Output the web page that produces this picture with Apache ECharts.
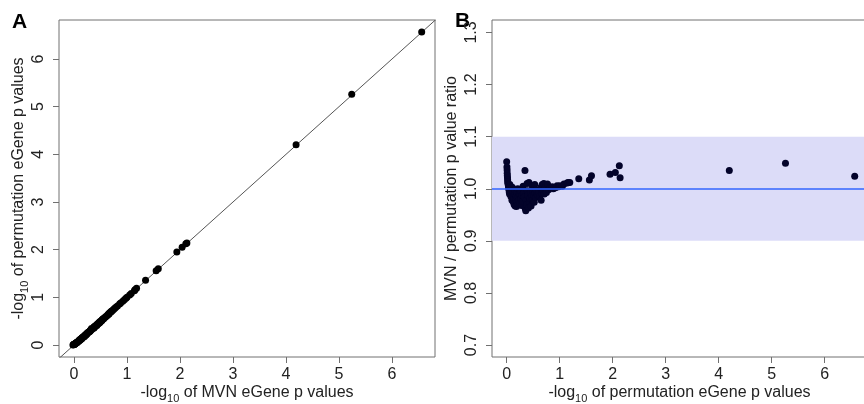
<!DOCTYPE html>
<html><head><meta charset="utf-8">
<script src="https://cdn.jsdelivr.net/npm/echarts@6/dist/echarts.min.js"></script>
<style>html,body{margin:0;padding:0;background:#fff}#c{width:864px;height:404px}</style>
</head><body><div id="c"></div>
<script>
// -log10 permutation eGene p values (panel A y, panel B x)
const permLog = [0.000,0.005,0.008,0.010,0.012,0.015,0.018,0.020,0.025,0.030,0.035,0.040,0.045,0.050,0.055,0.060,0.070,0.080,0.090,0.100,
0.105,0.110,0.120,0.125,0.130,0.140,0.150,0.155,0.160,0.170,0.180,0.185,0.190,0.200,0.210,0.215,0.220,0.230,0.240,0.250,
0.260,0.270,0.280,0.290,0.300,0.310,0.320,0.330,0.345,0.350,0.360,0.370,0.380,0.385,0.390,0.400,0.410,0.420,0.430,0.440,
0.450,0.460,0.470,0.480,0.490,0.500,0.510,0.520,0.530,0.540,0.550,0.560,0.580,0.600,0.620,0.640,0.650,0.660,0.670,0.690,
0.700,0.710,0.730,0.750,0.770,0.790,0.820,0.860,0.880,0.920,0.950,0.980,1.000,1.050,1.080,1.140,1.160,1.190,1.360,1.560,
1.600,1.950,2.050,2.125,2.140,4.200,5.260,6.566];
// MVN / permutation p value ratio (panel B y)
const ratio = [1.052,1.042,1.036,1.030,1.025,1.021,1.017,1.013,1.010,1.007,1.004,1.001,0.997,0.993,0.990,1.008,1.005,0.985,0.992,0.978,
1.003,0.988,0.995,0.975,0.983,0.970,0.990,0.998,0.967,0.980,0.986,0.966,0.993,0.975,1.000,0.970,0.984,0.978,0.990,0.972,
0.996,0.982,0.968,0.988,0.976,1.005,0.992,0.984,1.035,0.962,0.958,0.978,0.970,1.010,0.996,0.988,0.963,1.012,0.975,0.982,
0.993,0.967,0.985,1.006,0.978,0.995,0.988,0.974,1.008,0.992,0.983,0.997,0.988,0.994,0.985,1.002,0.978,0.992,1.008,0.996,
1.010,0.990,1.003,0.993,1.009,0.998,1.002,1.004,1.000,1.002,1.006,1.004,1.006,1.005,1.009,1.011,1.012,1.012,1.019,1.017,
1.025,1.028,1.031,1.044,1.021,1.035,1.049,1.024];
// -log10 MVN eGene p values (panel A x)
const mvnLog = [-0.02,-0.01,-0.01,0.00,0.00,0.01,0.01,0.01,0.02,0.03,0.03,0.04,0.05,0.05,0.06,0.06,0.07,0.09,0.09,0.11,
0.10,0.12,0.12,0.14,0.14,0.15,0.15,0.16,0.17,0.18,0.19,0.20,0.19,0.21,0.21,0.23,0.23,0.24,0.24,0.26,
0.26,0.28,0.29,0.30,0.31,0.31,0.32,0.34,0.33,0.37,0.38,0.38,0.39,0.38,0.39,0.41,0.43,0.42,0.44,0.45,
0.45,0.48,0.48,0.48,0.50,0.50,0.52,0.53,0.53,0.54,0.56,0.56,0.59,0.60,0.63,0.64,0.66,0.66,0.67,0.69,
0.70,0.71,0.73,0.75,0.77,0.79,0.82,0.86,0.88,0.92,0.95,0.98,1.00,1.05,1.08,1.14,1.15,1.18,1.35,1.55,
1.59,1.94,2.04,2.11,2.13,4.19,5.24,6.56];
const ticksA = [0,1,2,3,4,5,6];
const ticksBx = [0,1,2,3,4,5,6];
const ticksBy = [0.7,0.8,0.9,1.0,1.1,1.2,1.3];
const band = [0.9, 1.1];
const refRatio = 1.0;
const diagonal = [-1, 8];

const FONT = 'Liberation Sans';
const FS = 16;
const boxColor = '#707070';
const rich = { sub: { fontSize: 11, fontFamily: FONT, color: '#222', padding: [12, 0, 0, 0] } };

function xAxisCfg(gi, min, max, ticks, name) {
  return {
    type: 'value', gridIndex: gi, min: min, max: max,
    axisLine: { show: false, onZero: false },
    splitLine: { show: false },
    axisTick: { show: true, length: 6, customValues: ticks, lineStyle: { color: boxColor } },
    axisLabel: { customValues: ticks, margin: 10, fontSize: FS, fontFamily: FONT, color: '#222' },
    name: name, nameLocation: 'middle', nameGap: 24, nameMoveOverlap: false,
    nameTextStyle: { fontSize: FS, fontFamily: FONT, color: '#222', rich: rich }
  };
}
function yAxisCfg(gi, min, max, ticks, name, fmt, gap) {
  return {
    type: 'value', gridIndex: gi, min: min, max: max,
    axisLine: { show: false, onZero: false },
    splitLine: { show: false },
    axisTick: { show: true, length: 6, customValues: ticks, lineStyle: { color: boxColor } },
    axisLabel: { customValues: ticks, rotate: 90, margin: 12, fontSize: FS, fontFamily: FONT, color: '#222', formatter: fmt },
    name: name, nameLocation: 'middle', nameGap: gap,
    nameTextStyle: { fontSize: FS, fontFamily: FONT, color: '#222', rich: rich }
  };
}

const ptsA = mvnLog.map((v, i) => [v, permLog[i]]);
const ptsB = permLog.map((v, i) => [v, ratio[i]]);

const chart = echarts.init(document.getElementById('c'), null, { renderer: 'canvas' });
chart.setOption({
  animation: false,
  backgroundColor: '#fff',
  textStyle: { fontFamily: FONT },
  grid: [
    { left: 59, top: 20, width: 376, height: 337, show: true, borderColor: boxColor, borderWidth: 1, backgroundColor: 'transparent', containLabel: false, outerBoundsMode: 'none' },
    { left: 492, top: 20, width: 375, height: 337, show: true, borderColor: boxColor, borderWidth: 1, backgroundColor: 'transparent', containLabel: false, outerBoundsMode: 'none' }
  ],
  xAxis: [
    xAxisCfg(0, -0.283, 6.811, ticksA, '-log{sub|10} of MVN eGene p values'),
    xAxisCfg(1, -0.277, 6.798, ticksBx, '-log{sub|10} of permutation eGene p values')
  ],
  yAxis: [
    yAxisCfg(0, -0.252, 6.818, ticksA, '-log{sub|10} of permutation eGene p values', v => String(v), 26),
    yAxisCfg(1, 0.677, 1.324, ticksBy, 'MVN / permutation p value ratio', v => v.toFixed(1), 32)
  ],
  graphic: [
    { type: 'text', left: 12, top: 12, style: { text: 'A', fontSize: 21, fontWeight: 'bold', fontFamily: FONT, fill: '#000' } },
    { type: 'text', left: 455, top: 11, style: { text: 'B', fontSize: 21, fontWeight: 'bold', fontFamily: FONT, fill: '#000' } }
  ],
  series: [
    {
      type: 'line', xAxisIndex: 0, yAxisIndex: 0, data: diagonal.map(v => [v, v]),
      showSymbol: false, symbol: 'none', clip: true, silent: true, z: 2,
      lineStyle: { color: '#555', width: 1 }
    },
    {
      type: 'scatter', xAxisIndex: 0, yAxisIndex: 0, data: ptsA, z: 3,
      symbolSize: 7, itemStyle: { color: '#000', opacity: 1 }
    },
    {
      type: 'scatter', xAxisIndex: 1, yAxisIndex: 1, data: [], z: 1, silent: true,
      markArea: { silent: true, itemStyle: { color: '#dcdcf8', opacity: 1 }, data: [[{ yAxis: band[0] }, { yAxis: band[1] }]] }
    },
    {
      type: 'scatter', xAxisIndex: 1, yAxisIndex: 1, data: ptsB, z: 3,
      symbolSize: 7, itemStyle: { color: '#03032a', opacity: 1 }
    },
    {
      type: 'scatter', xAxisIndex: 1, yAxisIndex: 1, data: [], z: 2, silent: true,
      markLine: { silent: true, symbol: 'none', label: { show: false }, lineStyle: { color: '#3366ff', width: 1.5, type: 'solid' }, data: [{ yAxis: refRatio }] }
    }
  ]
});
</script></body></html>
